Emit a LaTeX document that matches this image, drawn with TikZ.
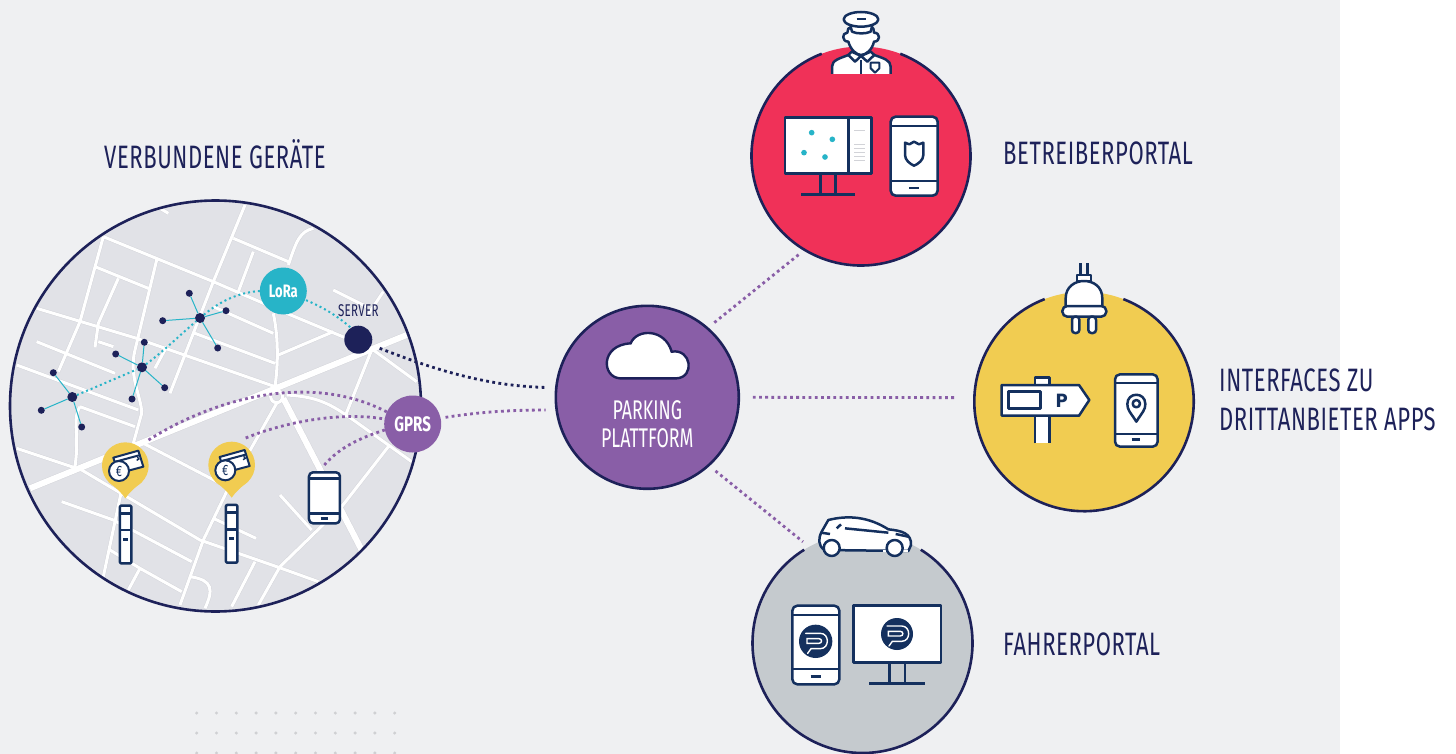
\documentclass[tikz,border=0pt]{standalone}
\usepackage{fontspec}
\usetikzlibrary{calc}
\newfontfamily\dinfont[FakeStretch=0.68, LetterSpace=1.8]{Fira Sans}
\newfontfamily\dinplate[FakeStretch=0.66]{Fira Sans}
\newfontfamily\dinbold[FakeStretch=0.72]{Fira Sans}
\newfontfamily\signfont{Poppins}
\definecolor{panelgrey}{HTML}{EFF0F2}
\definecolor{mapgrey}{HTML}{E1E2E7}
\definecolor{roadedge}{HTML}{D2D3D8}
\definecolor{navyline}{HTML}{1D2159}
\definecolor{iconline}{HTML}{14305E}
\definecolor{platformpurple}{HTML}{895EA7}
\definecolor{loratealc}{HTML}{27B4C8}
\definecolor{portalred}{HTML}{F03158}
\definecolor{portalyellow}{HTML}{F1CC51}
\definecolor{portalgrey}{HTML}{C5CACE}
\definecolor{griddot}{HTML}{CFD0D3}
\tikzset{
    bubble/.style={circle, inner sep=0pt, outer sep=0pt},
    ring/.style={draw=navyline, line width=2.6pt},
    biglabel/.style={anchor=base west, inner sep=0pt, text=navyline, font=\dinfont\fontsize{32.4}{36}\selectfont},
    platelabel/.style={anchor=base, inner sep=0pt, text=white, font=\dinplate\fontsize{27}{30}\selectfont},
    iconstroke/.style={draw=iconline, line width=2.5pt, line join=round},
    dotpurple/.style={draw=platformpurple, line width=2.8pt, dash pattern=on 2.8pt off 3.4pt},
    dotnavy/.style={draw=navyline, line width=2.8pt, dash pattern=on 2.8pt off 3.4pt},
    dotteal/.style={draw=loratealc, line width=2pt, dash pattern=on 2pt off 3pt},
    hubdot/.style={bubble, fill=navyline, minimum size=10pt},
    leafdot/.style={bubble, fill=navyline, minimum size=7pt},
    tealline/.style={draw=loratealc, line width=1pt}
}
% street network of the map, in 3x crop coordinates
\newcommand{\thinroads}{
    (310,140) -- (640,275) -- (860,370) -- (1040,445)
    (735,45) -- (640,275) -- (510,610)
    (310,140) -- (240,395) -- (175,545)
    (110,355) -- (410,445) -- (825,590)
    (290,232) -- (445,295)
    (355,265) -- (295,400) -- (285,472)
    (295,455) -- (340,470)
    (470,210) -- (405,480) .. controls (385,560) and (425,620) .. (425,670) -- (400,760)
    (700,145) -- (865,215)
    (760,185) -- (715,305)
    (940,115) .. controls (900,125) and (890,150) .. (865,225)
    (110,455) -- (345,550)
    (50,525) -- (415,660)
    (240,650) -- (405,710)
    (240,650) .. controls (215,690) and (240,720) .. (225,830)
    (500,470) -- (465,535)
    (585,430) -- (825,520)
    (640,350) -- (820,430)
    (820,370) .. controls (835,440) and (835,520) .. (825,590)
    (835,495) -- (1000,425)
    (1000,300) -- (1100,350)
    (1150,305) -- (1100,380)
    (1115,480) -- (1035,680)
    (1120,480) -- (1250,575)
    (830,640) -- (680,905) -- (610,1050) -- (540,1245)
    (860,615) .. controls (950,620) and (990,640) .. (1060,690) -- (1235,815)
    (1165,770) -- (1025,950) -- (840,1130) -- (775,1245)
    (50,775) -- (245,840) -- (600,1050) -- (830,1130) -- (955,1175)
    (430,760) -- (680,890)
    (185,935) -- (340,990) -- (575,1115)
    (365,900) -- (310,1160)
    (330,1080) -- (420,1135) -- (545,1205)
    (420,1135) -- (385,1200)
    (570,1160) .. controls (640,1170) and (640,1200) .. (615,1255)
    (640,985) -- (768,1045)
    (765,1115) -- (695,1250)
    (840,915) -- (935,1020)
    (480,55) -- (505,70)
    (830,620) circle[radius=18pt]
}
\newcommand{\thickroads}{
    (90,895) -- (1220,435)
    (850,625) -- (1085,1080)
}
\begin{document}
\begin{tikzpicture}[x=1pt, y=-1pt]
    \useasboundingbox (0,0) rectangle (1456,754);
    \fill[white] (0,0) rectangle (1456,754);
    \fill[panelgrey] (0,0) rectangle (1340,754);

    % dot grid
    \foreach \col in {0,...,10} {
        \foreach \row in {0,1,2} {
            \fill[griddot] ({196.7+19.8*\col},{713+20*\row}) circle[radius=1.7pt];
        }
    }

    % map disc
    \node[bubble, fill=mapgrey, minimum size=411pt] (mapdisc) at (215.5,406) {};
    \begin{scope}
        \clip (215.5,406) circle[radius=205.5pt];
        \begin{scope}[shift={(0,190)}, scale=1/3]
            \draw[roadedge, line width=3.8pt] \thinroads;
            \draw[roadedge, line width=6.8pt] \thickroads;
            \draw[white, line width=3pt] \thinroads;
            \draw[white, line width=6pt] \thickroads;
        \end{scope}
    \end{scope}
    \draw[ring] (mapdisc.center) circle[radius=205.5pt];

    % sensor clusters
    \node[hubdot] (hubd) at (200,318) {};
    \node[hubdot] (hubb) at (142,367.3) {};
    \node[hubdot] (hubc) at (72.3,397) {};
    \foreach \lx/\ly in {189.3/293.3, 226/310.7, 162.7/320.7, 217.7/348} {
        \node[leafdot] (leaf) at (\lx,\ly) {};
        \draw[tealline] (hubd) -- (leaf);
    }
    \foreach \lx/\ly in {144.3/342.3, 115.7/354, 164.7/387.7, 132/399} {
        \node[leafdot] (leaf) at (\lx,\ly) {};
        \draw[tealline] (hubb) -- (leaf);
    }
    \foreach \lx/\ly in {53.3/372.7, 41.3/410.3, 81.7/427} {
        \node[leafdot] (leaf) at (\lx,\ly) {};
        \draw[tealline] (hubc) -- (leaf);
    }

    % network nodes
    \node[bubble, fill=loratealc, minimum size=47pt, text=white, font=\dinbold\bfseries\fontsize{18}{20}\selectfont] (lora) at (283.3,291) {LoRa};
    \node[bubble, fill=navyline, minimum size=28pt] (server) at (358.3,339.7) {};
    \node[anchor=base, inner sep=0pt, text=navyline, font=\dinfont\fontsize{17}{19}\selectfont] (serverlabel) at (358.3,316) {SERVER};
    \node[bubble, fill=platformpurple, minimum size=57pt, text=white, font=\dinbold\bfseries\fontsize{21}{23}\selectfont] (gprs) at (412.7,424) {GPRS};
    \node[bubble, fill=platformpurple, draw=navyline, line width=2.6pt, minimum size=183pt] (platform) at (647.3,397.3) {};
    \node[platelabel] (parkingline) at (647.3,419.3) {PARKING};
    \node[platelabel] (plattformline) at (647.3,447.7) {PLATTFORM};

    \draw[dotteal] (hubc) -- (hubb) .. controls (165,350) and (180,335) .. (hubd)
        .. controls (225,297) and (245,292) .. (lora.west);
    \draw[dotteal, shorten <=1pt] (lora.-22) .. controls (325,308) and (340,318) .. (server.122);
    \draw[dotnavy, shorten <=9pt, shorten >=11pt] (server.-22) .. controls (440,372) and (490,386) .. (platform.174);
    \draw[dotpurple, shorten <=5pt, shorten >=11pt] (gprs.12) .. controls (480,412) and (510,410) .. (platform.188);

    % yellow parking pins and terminals
    \begin{scope}[shift={(0,190)}, scale=1/3]
        \foreach \px/\py in {376/827, 695/825} {
            \begin{scope}[shift={(\px,\py)}]
                \fill[portalyellow] (0,0) circle[radius=70pt];
                \fill[portalyellow] (-50,49) .. controls (-30,65) and (-12,80) .. (0,98)
                    .. controls (12,80) and (30,65) .. (50,49) -- cycle;
                \draw[iconstroke, line width=2pt, fill=white] (-36,-24) -- (39,-45) -- (54,3) -- (-21,23) -- cycle;
                \draw[iconstroke, line width=2pt] (-33,-11) -- (45,-32);
                \draw[iconstroke, line width=1.4pt] (36,-26) -- (41,-20) -- (34,-16);
                \draw[iconstroke, line width=2pt, fill=white] (-19,16) circle[radius=30pt];
                \node[inner sep=0pt, text=iconline, font=\dinbold\fontsize{15}{15}\selectfont] (euro) at (-19,16) {€};
            \end{scope}
        }
        \foreach \tx/\ty in {360/947, 678/945} {
            \begin{scope}[shift={(\tx,\ty)}]
                \draw[iconstroke, fill=white, rounded corners=1pt] (0,0) rectangle (34,173);
                \draw[iconstroke] (0,23) -- (34,23) (0,73) -- (34,73);
                \draw[iconstroke] (10,101) -- (25,101);
            \end{scope}
        }
        \draw[iconstroke, fill=white, rounded corners=4pt] (927,847) rectangle (1020,1000);
        \draw[iconstroke] (927,865) -- (1020,865) (927,970) -- (1020,970);
        \draw[iconstroke] (962,985) -- (985,985);
    \end{scope}

    \coordinate (pinone) at (148.5,440);
    \coordinate (pintwo) at (245.7,438);
    \coordinate (phonetop) at (324.3,465);
    \draw[dotpurple] (pinone) .. controls (215,398) and (310,372) .. (gprs.155);
    \draw[dotpurple] (pintwo) .. controls (290,420) and (345,412) .. (gprs.170);
    \draw[dotpurple] (phonetop) .. controls (340,447) and (360,438) .. (gprs.192);

    % cloud on the platform
    \begin{scope}[shift={(540,300)}, scale=1/3]
        \draw[navyline, line width=2.4pt, fill=white] (240,235) .. controls (185,232) and (180,135) .. (272,130)
            .. controls (290,85) and (375,85) .. (395,155)
            .. controls (455,145) and (465,232) .. (410,235) -- cycle;
    \end{scope}

    % operator portal
    \node[bubble, fill=portalred, minimum size=219pt] (betreiber) at (861,156) {};
    \draw[ring] (betreiber.111) arc[start angle=111, end angle=429, radius=109.5pt];
    \begin{scope}[shift={(740,0)}, scale=1/3]
        % officer
        \fill[white] (276,222) -- (276,200) .. controls (276,180) and (300,175) .. (335,160)
            -- (395,160) .. controls (430,175) and (452,180) .. (452,200) -- (452,222) -- cycle;
        \draw[iconstroke] (276,222) -- (276,200) .. controls (276,180) and (300,175) .. (325,165);
        \draw[iconstroke] (452,222) -- (452,200) .. controls (452,180) and (430,175) .. (403,165);
        \draw[iconstroke] (363,180) -- (363,222);
        \draw[iconstroke, line width=2pt, fill=white] (392,188) -- (418,188) -- (418,205) -- (405,218) -- (392,205) -- cycle;
        \draw[iconstroke, fill=white] (325,85) -- (322,98) .. controls (305,98) and (305,125) .. (325,125)
            .. controls (332,150) and (350,165) .. (363,165) .. controls (378,165) and (396,150) .. (402,125)
            .. controls (422,125) and (422,98) .. (402,98) -- (400,85) -- cycle;
        \draw[iconstroke, fill=white] (325,165) -- (345,185) -- (363,168) -- (382,185) -- (403,165) -- (392,155) -- (363,168) -- (335,155) -- cycle;
        \draw[iconstroke, fill=white] (330,72) -- (336,95) .. controls (350,102) and (378,102) .. (392,95) -- (398,72) -- cycle;
        \draw[iconstroke, fill=white] (363,58) ellipse[x radius=52pt, y radius=22pt];
        \draw[iconstroke] (350,57) -- (378,57);
        % monitor with map
        \draw[iconstroke, line width=2.6pt] (242,520) -- (242,583) (286,520) -- (286,583);
        \draw[iconstroke, line width=2.6pt] (183,583) -- (345,583);
        \draw[iconstroke, line width=2.6pt, fill=white] (135,352) rectangle (395,520);
        \draw[iconstroke, line width=2.6pt] (325,352) -- (325,520);
        \foreach \ly in {390,433,445,457,469,481} {
            \draw[roadedge, line width=.8pt] (343,\ly) -- (375,\ly);
        }
        \foreach \dx/\dy in {215/398, 277/418, 192/458, 255/471} {
            \fill[loratealc] (\dx,\dy) circle[radius=8.5pt];
        }
        % phone with shield
        \draw[iconstroke, line width=2.6pt, fill=white, rounded corners=5pt] (452,350) rectangle (593,587);
        \draw[iconstroke] (452,378) -- (593,378) (452,543) -- (593,543);
        \draw[iconstroke] (508,564) -- (538,564);
        \draw[iconstroke] (495,428) -- (508,433) -- (522,425) -- (537,433) -- (550,428) -- (550,465)
            .. controls (550,480) and (535,492) .. (522,497) .. controls (510,492) and (495,480) .. (495,465) -- cycle;
    \end{scope}

    % interfaces
    \node[bubble, fill=portalyellow, minimum size=219.4pt] (schnittstelle) at (1084,401.5) {};
    \draw[ring] (schnittstelle.111) arc[start angle=111, end angle=429, radius=109.7pt];
    \begin{scope}[shift={(965,255)}, scale=1/3]
        % plug
        \draw[iconstroke] (347,25) -- (347,60) (367,25) -- (367,60);
        \draw[iconstroke, fill=white] (336,60) rectangle (378,78);
        \draw[iconstroke, fill=white] (302,155) -- (302,130) .. controls (302,95) and (330,78) .. (357,78)
            .. controls (385,78) and (412,95) .. (412,130) -- (412,155) -- cycle;
        \draw[iconstroke, fill=white, rounded corners=5pt] (292,153) rectangle (424,185);
        \draw[iconstroke, fill=white, rounded corners=3pt] (321,185) rectangle (343,234);
        \draw[iconstroke, fill=white, rounded corners=3pt] (370,185) rectangle (393,234);
        % signpost
        \fill[white] (210,368) rectangle (254,565);
        \draw[iconstroke] (210,565) -- (210,368) -- (254,368) -- (254,565);
        \draw[iconstroke, fill=white] (110,390) -- (342,390) -- (373,435) -- (342,482) -- (110,482) -- cycle;
        \draw[iconstroke] (130,410) rectangle (227,460);
        \node[inner sep=0pt, text=iconline, font=\signfont\bfseries\fontsize{19}{19}\selectfont] (signp) at (290,436) {P};
        % phone with pin
        \draw[iconstroke, fill=white, rounded corners=5pt] (450,358) rectangle (578,575);
        \draw[iconstroke] (450,384) -- (578,384) (450,537) -- (578,537);
        \draw[iconstroke] (500,553) -- (526,553);
        \draw[iconstroke] (514,500) .. controls (495,470) and (487,465) .. (487,447)
            .. controls (487,410) and (541,410) .. (541,447) .. controls (541,465) and (533,470) .. (514,500) -- cycle;
        \draw[iconstroke] (514,446) circle[radius=11pt];
    \end{scope}

    % driver portal
    \node[bubble, fill=portalgrey, minimum size=220pt] (fahrer) at (862.5,643) {};
    \draw[ring] (fahrer.122) arc[start angle=122, end angle=418, radius=110pt];
    \begin{scope}[shift={(745,510)}, scale=1/3]
        % car
        \draw[iconstroke, fill=white] (238,120) .. controls (218,105) and (220,85) .. (230,65)
            -- (250,30) .. controls (310,15) and (370,20) .. (430,58)
            .. controls (470,62) and (500,70) .. (498,105) -- (490,123) -- cycle;
        \draw[iconstroke] (300,55) -- (430,68) (275,55) -- (288,43);
        \draw[iconstroke] (452,72) -- (490,80);
        \draw[iconstroke] (228,68) -- (255,72);
        \draw[white, line width=2.5pt] (415,123) -- (488,123);
        \draw[iconstroke, fill=white] (260,114) circle[radius=24pt];
        \draw[iconstroke, fill=white] (449,114) circle[radius=24pt];
        % phone and monitor
        \draw[iconstroke, fill=white, rounded corners=5pt] (142,287) rectangle (283,523);
        \draw[iconstroke] (142,315) -- (283,315) (142,477) -- (283,477);
        \draw[iconstroke] (197,500) -- (228,500);
        \draw[iconstroke] (433,457) -- (433,520) (480,457) -- (480,520);
        \draw[iconstroke] (373,520) -- (540,520);
        \draw[iconstroke, line width=2.6pt, fill=white] (325,287) rectangle (588,457);
        % logo
        \foreach \lx/\ly/\lr in {212/394/50, 456/372/48} {
            \begin{scope}[shift={(\lx,\ly)}]
                \fill[iconline] (0,0) circle[radius=\lr pt];
                \draw[white, line width=1.4pt, line cap=round] (-30,-24) -- (14,-24)
                    .. controls (42,-24) and (42,22) .. (14,22) -- (-14,22) -- (-24,36);
                \draw[white, line width=1.4pt, line cap=round] (-26,-8) -- (10,-8)
                    .. controls (20,-8) and (20,6) .. (10,6) -- (-26,6) -- cycle;
            \end{scope}
        }
    \end{scope}

    % links from the platform
    \draw[dotpurple, shorten <=9pt, shorten >=6pt] (platform.49) -- (betreiber.239);
    \draw[dotpurple, shorten <=14pt, shorten >=19pt] (platform.east) -- (schnittstelle.178);
    \draw[dotpurple, shorten <=9pt, shorten >=8pt] (platform.312) -- (fahrer.119);

    % labels
    \node[biglabel] (geraete) at (104,168.3) {VERBUNDENE GERÄTE};
    \node[biglabel] (betreiberlabel) at (1003,165) {BETREIBERPORTAL};
    \node[biglabel] (interfaceone) at (1219,391.7) {INTERFACES ZU};
    \node[biglabel] (interfacetwo) at (1219,430) {DRITTANBIETER APPS};
    \node[biglabel] (fahrerlabel) at (1003,655) {FAHRERPORTAL};
\end{tikzpicture}
\end{document}
